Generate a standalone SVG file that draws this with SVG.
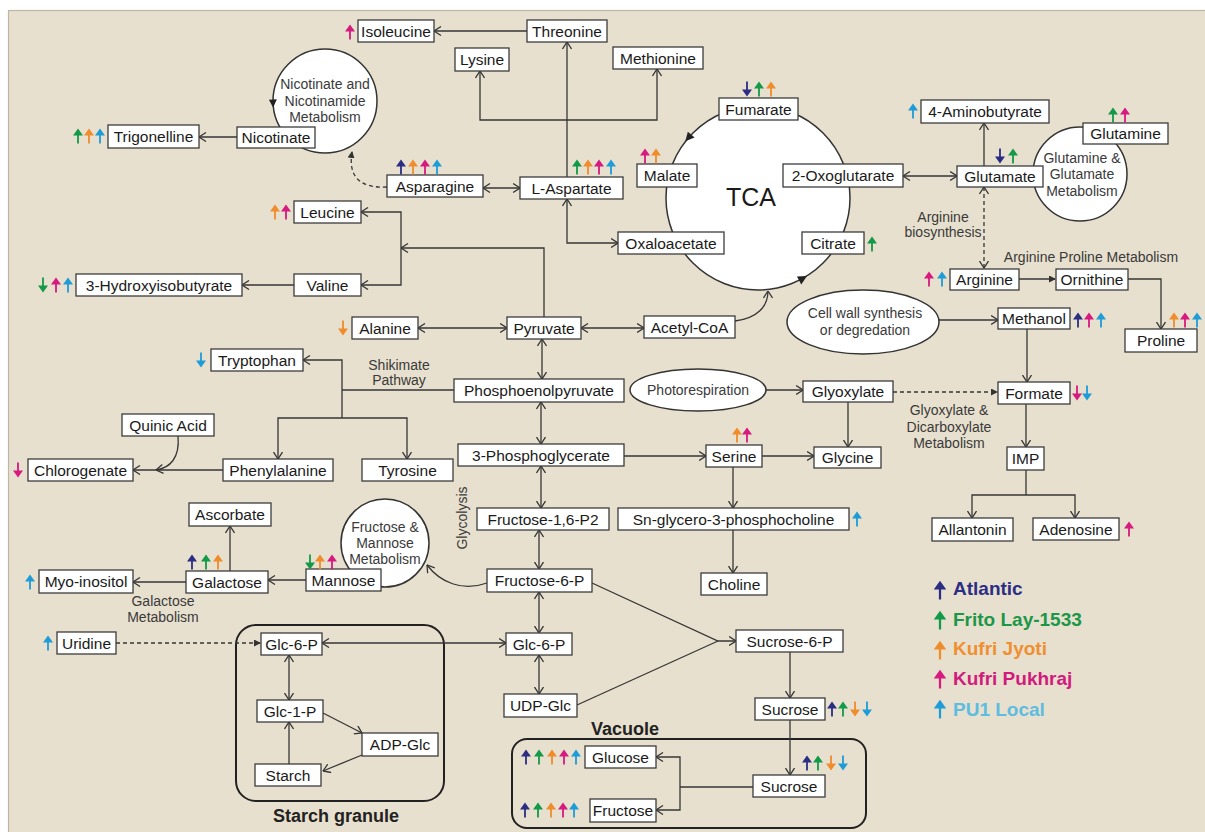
<svg xmlns="http://www.w3.org/2000/svg" xmlns:xlink="http://www.w3.org/1999/xlink" width="1205" height="832" viewBox="0 0 1205 832">
  <defs>
    <style>
      .bg{fill:#E8E0CE;stroke:#BEB7A8;stroke-width:1.2}
      .bx{fill:#fff;stroke:#3c3c3c;stroke-width:1.3}
      .bub{fill:#fff;stroke:#333;stroke-width:1.5}
      .cmp{fill:none;stroke:#222;stroke-width:2}
      .t{font-family:"Liberation Sans",Arial,sans-serif;font-size:15.5px;fill:#1a1a1a;text-anchor:middle}
      .s{font-family:"Liberation Sans",Arial,sans-serif;font-size:14px;fill:#3a3a3a;text-anchor:middle}
      .h{font-family:"Liberation Sans",Arial,sans-serif;font-size:18px;font-weight:bold;fill:#222;text-anchor:middle}
      .lg{font-family:"Liberation Sans",Arial,sans-serif;font-size:19px;font-weight:bold}
      .c{fill:none;stroke:#363636;stroke-width:1.3}
      .e{marker-end:url(#ah)}
      .b{marker-start:url(#ah);marker-end:url(#ah)}
      .st{marker-start:url(#ah)}
      .d{stroke-dasharray:4 3;marker-end:url(#fh)}
      .a{fill:#2B2E83}
      .f{fill:#129A48}
      .j{fill:#EF8C2B}
      .p{fill:#D61A80}
      .u{fill:#1E9CD8}
    </style>
    <marker id="ah" viewBox="0 0 8 10" refX="7.5" refY="5" markerWidth="8" markerHeight="10" markerUnits="userSpaceOnUse" orient="auto-start-reverse">
      <path d="M0.5,0.5 L7.5,5 L0.5,9.5" fill="none" stroke="#363636" stroke-width="1.3"/>
    </marker>
    <marker id="fh" viewBox="0 0 7 7" refX="6" refY="3.5" markerWidth="7" markerHeight="7" markerUnits="userSpaceOnUse" orient="auto-start-reverse">
      <path d="M0,0 L7,3.5 L0,7Z" fill="#333"/>
    </marker>
    <!-- level change indicators -->
    <path id="up" d="M0,-7.5 L5,-0.5 L0.9,-0.5 L0.9,7.5 L-0.9,7.5 L-0.9,-0.5 L-5,-0.5Z"/>
    <path id="dn" d="M0,7.5 L5,0.5 L0.9,0.5 L0.9,-7.5 L-0.9,-7.5 L-0.9,0.5 L-5,0.5Z"/>
  </defs>

  <rect x="8.5" y="10.5" width="1200" height="825" class="bg"/>

  <!-- compartments -->
  <g id="starch-granule">
    <rect x="236" y="625" width="208" height="176" rx="20" class="cmp"/>
    <text x="336" y="822" class="h">Starch granule</text>
  </g>
  <g id="vacuole">
    <rect x="512" y="739" width="354" height="89" rx="15" class="cmp"/>
    <text x="625" y="735" class="h">Vacuole</text>
  </g>

  <!-- connectors -->
  <g id="connectors">
    <path class="c e" d="M527,31 H434"/>
    <path class="c e" d="M567,177 V42"/>
    <path class="c b" d="M480,71 V120 H657 V69"/>
    <path class="c b" d="M483,188 H520"/>
    <path class="c b" d="M567,199 V243 H618"/>
    <path class="c e" d="M237,137 H199"/>
    <path class="c d" d="M387,187 Q346,189 352,152"/>
    <path class="c e" d="M544,317 V248 H401"/>
    <path class="c b" d="M361,212 H401 V285 H361"/>
    <path class="c e" d="M294,285 H242"/>
    <path class="c b" d="M418,328 H507"/>
    <path class="c b" d="M581,328 H644"/>
    <path class="c e" d="M735,321 C758,318 768,306 768,291"/>
    <path class="c b" d="M903,176 H957"/>
    <path class="c e" d="M984,166 V123"/>
    <path class="c b" d="M984,187 V268" stroke-dasharray="4 3"/>
    <path class="c" d="M1019,279 H1055" marker-end="url(#fh)"/>
    <path class="c e" d="M1128,279 H1161 V329"/>
    <path class="c e" d="M939,320 H998"/>
    <path class="c e" d="M1027,329 V382"/>
    <path class="c e" d="M1026,404 V447"/>
    <path class="c" d="M1026,470 V495"/>
    <path class="c b" d="M972,518 V495 H1075 V518"/>
    <path class="c e" d="M766,390 H803"/>
    <path class="c d" d="M893,392 H997"/>
    <path class="c e" d="M848,402 V447"/>
    <path class="c b" d="M542,339 V379"/>
    <path class="c" d="M454,390 H342"/>
    <path class="c st" d="M303,360 H342 V418"/>
    <path class="c b" d="M278,459 V418 H407 V459"/>
    <path class="c e" d="M223,470 H133"/>
    <path class="c e" d="M178,436 C180,458 170,468 156,470"/>
    <path class="c b" d="M541,402 V444"/>
    <path class="c e" d="M624,456 H706"/>
    <path class="c e" d="M762,456 H814"/>
    <path class="c e" d="M733,467 V508"/>
    <path class="c e" d="M733,530 V573"/>
    <path class="c b" d="M541,466 V508"/>
    <path class="c b" d="M539,530 V569"/>
    <path class="c e" d="M487,583 C462,592 440,582 427,565"/>
    <path class="c e" d="M306,580 H268"/>
    <path class="c e" d="M186,582 H133"/>
    <path class="c e" d="M230,571 V526"/>
    <path class="c b" d="M539,592 V633"/>
    <path class="c b" d="M539,655 V694"/>
    <path class="c b" d="M322,643 H506"/>
    <path class="c e" d="M592,583 L718,641 H736"/>
    <path class="c" d="M577,705 L718,641"/>
    <path class="c e" d="M790,652 V698"/>
    <path class="c e" d="M790,720 V775"/>
    <path class="c" d="M753,787 H680"/>
    <path class="c b" d="M656,757 H680 V810 H656"/>
    <path class="c d" d="M116,643 H260"/>
    <path class="c b" d="M289,655 V700"/>
    <path class="c e" d="M289,764 V722"/>
    <path class="c e" d="M323,713 L362,733"/>
    <path class="c e" d="M362,755 L323,771"/>
  </g>

  <!-- pathway bubbles -->
  <g id="tca">
    <circle cx="758" cy="198" r="92" class="bub"/>
    <path d="M5,0 L-4,-4.5 L-4,4.5Z" fill="#222" transform="translate(688.6,137.6) rotate(131)"/>
    <path d="M5,0 L-4,-4.5 L-4,4.5Z" fill="#222" transform="translate(802.6,278.5) rotate(-29)"/>
    <text x="751" y="206" font-family="Liberation Sans, Arial, sans-serif" font-size="25" fill="#1a1a1a" text-anchor="middle">TCA</text>
  </g>
  <g id="nicotinate-metabolism">
    <circle cx="325" cy="101" r="52" class="bub"/>
    <path d="M4.5,0 L-3.5,-4 L-3.5,4Z" fill="#222" transform="translate(273,103) rotate(88)"/>
    <text x="325" y="89" class="s">Nicotinate and</text>
    <text x="325" y="106" class="s">Nicotinamide</text>
    <text x="325" y="122" class="s">Metabolism</text>
  </g>
  <g id="glutamine-metabolism">
    <circle cx="1080" cy="174" r="47" class="bub"/>
    <text x="1082" y="163" class="s">Glutamine &amp;</text>
    <text x="1082" y="179" class="s">Glutamate</text>
    <text x="1082" y="196" class="s">Metabolism</text>
  </g>
  <g id="fructose-mannose-metabolism">
    <circle cx="385" cy="543" r="44" class="bub"/>
    <text x="385" y="532" class="s">Fructose &amp;</text>
    <text x="385" y="548" class="s">Mannose</text>
    <text x="385" y="564" class="s">Metabolism</text>
  </g>
  <g id="cell-wall">
    <ellipse cx="863" cy="322" rx="76" ry="32" class="bub"/>
    <text x="865" y="318" class="s">Cell wall synthesis</text>
    <text x="865" y="335" class="s">or degredation</text>
  </g>
  <g id="photorespiration">
    <ellipse cx="698" cy="390" rx="68" ry="21" class="bub"/>
    <text x="698" y="395" class="s">Photorespiration</text>
  </g>

  <!-- pathway labels -->
  <g id="pathway-labels">
    <text x="399" y="370" class="s">Shikimate</text>
    <text x="399" y="385" class="s">Pathway</text>
    <text x="943" y="222" class="s">Arginine</text>
    <text x="943" y="237" class="s">biosynthesis</text>
    <text x="1091" y="262" class="s">Arginine Proline Metabolism</text>
    <text x="949" y="415" class="s">Glyoxylate &amp;</text>
    <text x="949" y="432" class="s">Dicarboxylate</text>
    <text x="949" y="448" class="s">Metabolism</text>
    <text x="163" y="606" class="s">Galactose</text>
    <text x="163" y="622" class="s">Metabolism</text>
    <text x="467" y="518" class="s" transform="rotate(-90 467 518)">Glycolysis</text>
  </g>

  <!-- metabolites -->
  <g id="isoleucine"><rect x="358" y="20" width="76" height="22" class="bx"/><text x="396" y="36.5" class="t">Isoleucine</text><use href="#up" x="350" y="32" class="p"/></g>
  <g id="threonine"><rect x="527" y="20" width="80" height="22" class="bx"/><text x="567" y="36.5" class="t">Threonine</text></g>
  <g id="lysine"><rect x="455" y="48" width="54" height="23" class="bx"/><text x="482" y="65" class="t">Lysine</text></g>
  <g id="methionine"><rect x="613" y="47" width="90" height="22" class="bx"/><text x="658" y="63.5" class="t">Methionine</text></g>
  <g id="fumarate"><rect x="719" y="98" width="79" height="22" class="bx"/><text x="758.5" y="114.5" class="t">Fumarate</text>
    <use href="#dn" x="747" y="89" class="a"/><use href="#up" x="759" y="89" class="f"/><use href="#up" x="771" y="89" class="j"/></g>
  <g id="aminobutyrate"><rect x="921" y="100" width="128" height="23" class="bx"/><text x="985" y="117" class="t">4-Aminobutyrate</text><use href="#up" x="913" y="111" class="u"/></g>
  <g id="glutamine"><rect x="1083" y="123" width="85" height="21" class="bx"/><text x="1125.5" y="139" class="t">Glutamine</text>
    <use href="#up" x="1113" y="115" class="f"/><use href="#up" x="1125" y="115" class="p"/></g>
  <g id="trigonelline"><rect x="108" y="125" width="91" height="23" class="bx"/><text x="153.5" y="142" class="t">Trigonelline</text>
    <use href="#up" x="78" y="136" class="f"/><use href="#up" x="89" y="136" class="j"/><use href="#up" x="100" y="136" class="u"/></g>
  <g id="nicotinate"><rect x="237" y="127" width="78" height="21" class="bx"/><text x="276" y="143" class="t">Nicotinate</text></g>
  <g id="malate"><rect x="637" y="164" width="60" height="23" class="bx"/><text x="667" y="181" class="t">Malate</text>
    <use href="#up" x="645" y="156" class="p"/><use href="#up" x="656" y="156" class="j"/></g>
  <g id="oxoglutarate"><rect x="783" y="164" width="120" height="23" class="bx"/><text x="843" y="181" class="t">2-Oxoglutarate</text></g>
  <g id="glutamate"><rect x="957" y="166" width="86" height="21" class="bx"/><text x="1000" y="182" class="t">Glutamate</text>
    <use href="#dn" x="1000" y="156" class="a"/><use href="#up" x="1013" y="156" class="f"/></g>
  <g id="asparagine"><rect x="387" y="175" width="96" height="22" class="bx"/><text x="435" y="191.5" class="t">Asparagine</text>
    <use href="#up" x="401" y="167" class="a"/><use href="#up" x="413" y="167" class="j"/><use href="#up" x="425" y="167" class="p"/><use href="#up" x="437" y="167" class="u"/></g>
  <g id="aspartate"><rect x="520" y="177" width="103" height="22" class="bx"/><text x="571.5" y="193.5" class="t">L-Aspartate</text>
    <use href="#up" x="577" y="167" class="f"/><use href="#up" x="588" y="167" class="j"/><use href="#up" x="599" y="167" class="p"/><use href="#up" x="611" y="167" class="u"/></g>
  <g id="leucine"><rect x="294" y="201" width="67" height="22" class="bx"/><text x="327.5" y="217.5" class="t">Leucine</text>
    <use href="#up" x="275" y="212" class="j"/><use href="#up" x="286" y="212" class="p"/></g>
  <g id="oxaloacetate"><rect x="618" y="232" width="106" height="22" class="bx"/><text x="671" y="248.5" class="t">Oxaloacetate</text></g>
  <g id="citrate"><rect x="802" y="232" width="62" height="22" class="bx"/><text x="833" y="248.5" class="t">Citrate</text><use href="#up" x="872" y="244" class="f"/></g>
  <g id="arginine"><rect x="950" y="269" width="69" height="21" class="bx"/><text x="984.5" y="285" class="t">Arginine</text>
    <use href="#up" x="929" y="279" class="p"/><use href="#up" x="942" y="279" class="u"/></g>
  <g id="ornithine"><rect x="1056" y="269" width="72" height="21" class="bx"/><text x="1092" y="285" class="t">Ornithine</text></g>
  <g id="hydroxyisobutyrate"><rect x="76" y="274" width="166" height="22" class="bx"/><text x="159" y="290.5" class="t">3-Hydroxyisobutyrate</text>
    <use href="#dn" x="43" y="285" class="f"/><use href="#up" x="56" y="285" class="p"/><use href="#up" x="68" y="285" class="u"/></g>
  <g id="valine"><rect x="294" y="274" width="67" height="22" class="bx"/><text x="327.5" y="290.5" class="t">Valine</text></g>
  <g id="methanol"><rect x="998" y="308" width="72" height="21" class="bx"/><text x="1034" y="324" class="t">Methanol</text>
    <use href="#up" x="1078" y="320" class="a"/><use href="#up" x="1089" y="320" class="p"/><use href="#up" x="1101" y="320" class="u"/></g>
  <g id="alanine"><rect x="352" y="317" width="66" height="22" class="bx"/><text x="385" y="333.5" class="t">Alanine</text><use href="#dn" x="343" y="328" class="j"/></g>
  <g id="pyruvate"><rect x="507" y="317" width="74" height="22" class="bx"/><text x="544" y="333.5" class="t">Pyruvate</text></g>
  <g id="acetyl-coa"><rect x="644" y="316" width="91" height="22" class="bx"/><text x="689.5" y="332.5" class="t">Acetyl-CoA</text></g>
  <g id="proline"><rect x="1125" y="329" width="72" height="23" class="bx"/><text x="1161" y="346" class="t">Proline</text>
    <use href="#up" x="1174" y="320" class="j"/><use href="#up" x="1185" y="320" class="p"/><use href="#up" x="1197" y="320" class="u"/></g>
  <g id="tryptophan"><rect x="211" y="349" width="92" height="22" class="bx"/><text x="257" y="365.5" class="t">Tryptophan</text><use href="#dn" x="201" y="360" class="u"/></g>
  <g id="phosphoenolpyruvate"><rect x="454" y="379" width="170" height="23" class="bx"/><text x="539" y="396" class="t">Phosphoenolpyruvate</text></g>
  <g id="glyoxylate"><rect x="803" y="381" width="90" height="21" class="bx"/><text x="848" y="397" class="t">Glyoxylate</text></g>
  <g id="formate"><rect x="998" y="382" width="72" height="22" class="bx"/><text x="1034" y="398.5" class="t">Formate</text>
    <use href="#dn" x="1077" y="393" class="p"/><use href="#dn" x="1087" y="393" class="u"/></g>
  <g id="quinic-acid"><rect x="122" y="414" width="92" height="22" class="bx"/><text x="168" y="430.5" class="t">Quinic Acid</text></g>
  <g id="phosphoglycerate"><rect x="458" y="444" width="166" height="22" class="bx"/><text x="541" y="460.5" class="t">3-Phosphoglycerate</text></g>
  <g id="serine"><rect x="706" y="445" width="56" height="22" class="bx"/><text x="734" y="461.5" class="t">Serine</text>
    <use href="#up" x="737" y="435" class="j"/><use href="#up" x="747" y="435" class="p"/></g>
  <g id="glycine"><rect x="814" y="447" width="67" height="21" class="bx"/><text x="847.5" y="463" class="t">Glycine</text></g>
  <g id="imp"><rect x="1007" y="447" width="37" height="23" class="bx"/><text x="1025.5" y="464" class="t">IMP</text></g>
  <g id="chlorogenate"><rect x="28" y="459" width="105" height="22" class="bx"/><text x="80.5" y="475.5" class="t">Chlorogenate</text><use href="#dn" x="18" y="470" class="p"/></g>
  <g id="phenylalanine"><rect x="223" y="459" width="110" height="22" class="bx"/><text x="278" y="475.5" class="t">Phenylalanine</text></g>
  <g id="tyrosine"><rect x="362" y="459" width="91" height="22" class="bx"/><text x="407.5" y="475.5" class="t">Tyrosine</text></g>
  <g id="ascorbate"><rect x="189" y="503" width="82" height="23" class="bx"/><text x="230" y="520" class="t">Ascorbate</text></g>
  <g id="fructose-bisphosphate"><rect x="477" y="508" width="132" height="22" class="bx"/><text x="543" y="524.5" class="t">Fructose-1,6-P2</text></g>
  <g id="glycerophosphocholine"><rect x="618" y="508" width="231" height="22" class="bx"/><text x="733.5" y="524.5" class="t">Sn-glycero-3-phosphocholine</text><use href="#up" x="857" y="519" class="u"/></g>
  <g id="allantonin"><rect x="932" y="518" width="81" height="23" class="bx"/><text x="972.5" y="535" class="t">Allantonin</text></g>
  <g id="adenosine"><rect x="1033" y="518" width="86" height="22" class="bx"/><text x="1076" y="534.5" class="t">Adenosine</text><use href="#up" x="1129" y="529" class="p"/></g>
  <g id="fructose-6-p"><rect x="487" y="569" width="105" height="23" class="bx"/><text x="539.5" y="586" class="t">Fructose-6-P</text></g>
  <g id="mannose"><rect x="306" y="569" width="75" height="22" class="bx"/><text x="343.5" y="585.5" class="t">Mannose</text>
    <use href="#dn" x="310" y="562" class="f"/><use href="#up" x="320" y="562" class="j"/><use href="#up" x="332" y="562" class="p"/></g>
  <g id="galactose"><rect x="186" y="571" width="82" height="22" class="bx"/><text x="227" y="587.5" class="t">Galactose</text>
    <use href="#up" x="192" y="562" class="a"/><use href="#up" x="206" y="562" class="f"/><use href="#up" x="218" y="562" class="j"/></g>
  <g id="myo-inositol"><rect x="39" y="570" width="94" height="23" class="bx"/><text x="86" y="587" class="t">Myo-inositol</text><use href="#up" x="30" y="582" class="u"/></g>
  <g id="choline"><rect x="701" y="573" width="66" height="22" class="bx"/><text x="734" y="589.5" class="t">Choline</text></g>
  <g id="sucrose-6-p"><rect x="736" y="630" width="107" height="22" class="bx"/><text x="789.5" y="646.5" class="t">Sucrose-6-P</text></g>
  <g id="glc-6-p-granule"><rect x="261" y="633" width="61" height="22" class="bx"/><text x="291.5" y="649.5" class="t">Glc-6-P</text></g>
  <g id="glc-6-p"><rect x="506" y="633" width="66" height="22" class="bx"/><text x="539" y="649.5" class="t">Glc-6-P</text></g>
  <g id="uridine"><rect x="57" y="632" width="59" height="22" class="bx"/><text x="86.5" y="648.5" class="t">Uridine</text><use href="#up" x="48" y="643" class="u"/></g>
  <g id="udp-glc"><rect x="504" y="694" width="73" height="23" class="bx"/><text x="540.5" y="711" class="t">UDP-Glc</text></g>
  <g id="sucrose"><rect x="755" y="698" width="70" height="22" class="bx"/><text x="790" y="714.5" class="t">Sucrose</text>
    <use href="#up" x="832" y="709" class="a"/><use href="#up" x="843" y="709" class="f"/><use href="#dn" x="855" y="709" class="j"/><use href="#dn" x="867" y="709" class="u"/></g>
  <g id="glc-1-p"><rect x="257" y="700" width="66" height="22" class="bx"/><text x="290" y="716.5" class="t">Glc-1-P</text></g>
  <g id="adp-glc"><rect x="362" y="733" width="76" height="23" class="bx"/><text x="400" y="750" class="t">ADP-Glc</text></g>
  <g id="glucose"><rect x="585" y="746" width="71" height="22" class="bx"/><text x="620.5" y="762.5" class="t">Glucose</text>
    <use href="#up" x="526" y="757" class="a"/><use href="#up" x="539" y="757" class="f"/><use href="#up" x="552" y="757" class="j"/><use href="#up" x="564" y="757" class="p"/><use href="#up" x="576" y="757" class="u"/></g>
  <g id="starch"><rect x="255" y="764" width="66" height="22" class="bx"/><text x="288" y="780.5" class="t">Starch</text></g>
  <g id="sucrose-vacuole"><rect x="753" y="775" width="72" height="22" class="bx"/><text x="789" y="791.5" class="t">Sucrose</text>
    <use href="#up" x="807" y="763" class="a"/><use href="#up" x="818" y="763" class="f"/><use href="#dn" x="831" y="763" class="j"/><use href="#dn" x="843" y="763" class="u"/></g>
  <g id="fructose"><rect x="590" y="799" width="66" height="23" class="bx"/><text x="623" y="816" class="t">Fructose</text>
    <use href="#up" x="525" y="810" class="a"/><use href="#up" x="538" y="810" class="f"/><use href="#up" x="551" y="810" class="j"/><use href="#up" x="563" y="810" class="p"/><use href="#up" x="574" y="810" class="u"/></g>

  <!-- cultivar key -->
  <g id="legend">
    <use href="#up" transform="translate(940 590) scale(1.25)" class="a"/>
    <text x="953" y="595" class="lg" fill="#2B2E83">Atlantic</text>
    <use href="#up" transform="translate(940 620) scale(1.25)" class="f"/>
    <text x="953" y="626" class="lg" fill="#1B9748">Frito Lay-1533</text>
    <use href="#up" transform="translate(940 650) scale(1.25)" class="j"/>
    <text x="953" y="655" class="lg" fill="#EF8F2F">Kufri Jyoti</text>
    <use href="#up" transform="translate(940 679) scale(1.25)" class="p"/>
    <text x="953" y="685" class="lg" fill="#D21A7D">Kufri Pukhraj</text>
    <use href="#up" transform="translate(940 709) scale(1.25)" class="u"/>
    <text x="953" y="716" class="lg" fill="#5DBCE0">PU1 Local</text>
  </g>
</svg>
